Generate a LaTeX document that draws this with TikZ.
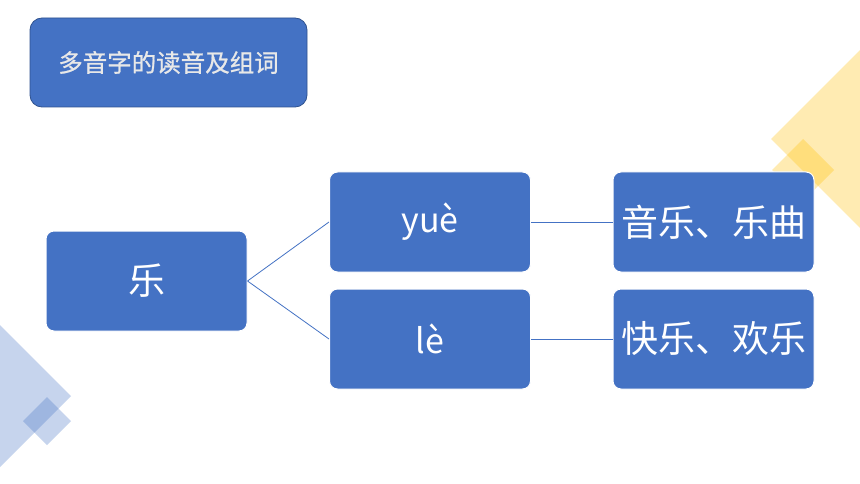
\documentclass[tikz,border=0pt]{standalone}
\usepackage{fontspec}
\setmainfont{Noto Sans CJK SC}
\newfontfamily\titlefont[FakeBold=0.8]{Noto Sans CJK SC}
\definecolor{boxblue}{HTML}{4472C4}
\definecolor{edgeblue}{HTML}{2F528F}
\definecolor{deco}{HTML}{FFC000}
\definecolor{titletext}{HTML}{E8E8E8}
\begin{document}
\begin{tikzpicture}[x=1pt,y=-1pt,
  box/.style={draw=white, line width=1pt, fill=boxblue, rounded corners=8pt,
    minimum width=201pt, minimum height=100pt, inner sep=0pt, text=white,
    font=\fontsize{37}{40}\selectfont},
  pinyin/.style={box, font=\fontsize{34}{38}\selectfont},
  titlebox/.style={draw=edgeblue, line width=0.8pt, fill=boxblue, rounded corners=12pt,
    minimum width=277pt, minimum height=89pt, inner sep=0pt, text=titletext,
    font=\titlefont\fontsize{24.5}{28}\selectfont},
  link/.style={draw=boxblue, line width=0.8pt},
  bluedeco/.style={fill=boxblue, fill opacity=0.3},
  yellowdeco/.style={fill=deco, fill opacity=0.3}]
\fill[white] (0,0) rectangle (860,484);
\useasboundingbox (0,0) rectangle (860,484);
\begin{scope}
  \clip (0,0) rectangle (860,484);
  % yellow decoration, top right
  \fill[yellowdeco] (771,139) -- (971,-61) -- (1171,139) -- (971,339) -- cycle;
  \fill[yellowdeco] (772,170) -- (803,139) -- (834,170) -- (803,201) -- cycle;
  % blue decoration, bottom left
  \fill[bluedeco] (71,396) -- (-129,196) -- (-329,396) -- (-129,596) -- cycle;
  \fill[bluedeco] (23,421) -- (47,397) -- (71,421) -- (47,445) -- cycle;
\end{scope}
% title
\node[titlebox] (title) at (168.5,62.5) {多音字的读音及组词};
% boxes
\node[box] (le) at (146.5,281) {乐};
\node[pinyin] (yue) at (430,222) {yuè};
\node[pinyin] (lee) at (430,339) {lè};
\node[box] (w1) at (713.5,222) {音乐、乐曲};
\node[box] (w2) at (713.5,339) {快乐、欢乐};
% connectors
\draw[link] (le.east) -- (yue.west);
\draw[link] (le.east) -- (lee.west);
\draw[link] (yue.east) -- (w1.west);
\draw[link] (lee.east) -- (w2.west);
\end{tikzpicture}
\end{document}
